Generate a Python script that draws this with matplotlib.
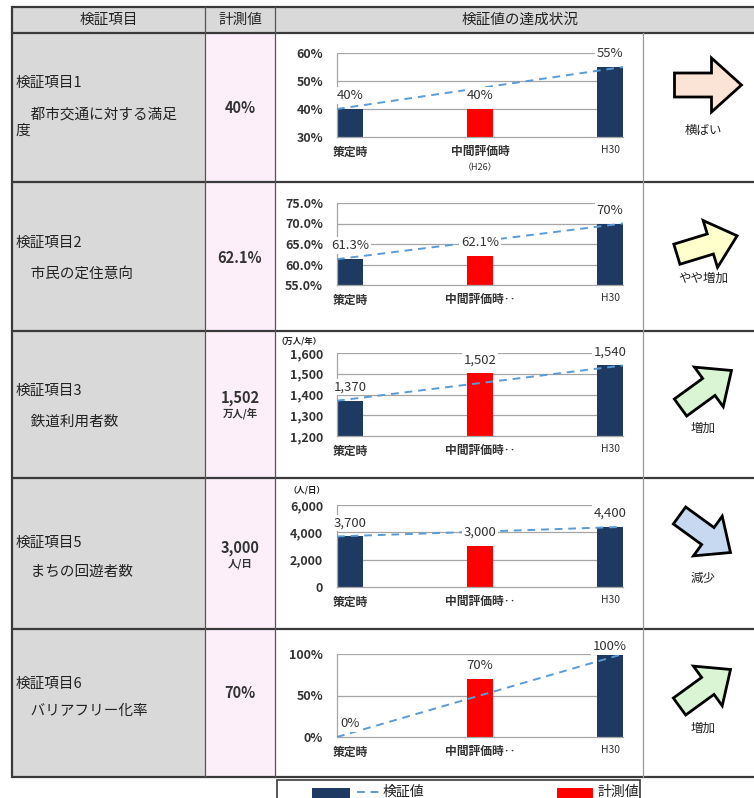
import math
import matplotlib
matplotlib.use("Agg")
import matplotlib.pyplot as plt
from matplotlib.patches import Rectangle, FancyArrow
from matplotlib.lines import Line2D

plt.rcParams['font.family'] = ['Noto Sans CJK JP', 'DejaVu Sans']

# ---------------- data ----------------
header_labels = ["検証項目", "計測値", "検証値の達成状況"]
categories = ["策定時", "中間評価時‥", "H30"]
first_subcategory = "（H26）"

item_titles = ["検証項目1", "検証項目2", "検証項目3", "検証項目5", "検証項目6"]
item_names = ["都市交通に対する満足度", "市民の定住意向", "鉄道利用者数",
              "まちの回遊者数", "バリアフリー化率"]
measured_units = ["", "", "万人/年", "人/日", ""]
axis_units = ["", "", "（万人/年）", "（人/日）", ""]

baseline_vals = [40, 61.3, 1370, 3700, 0]
measured_vals = [40, 62.1, 1502, 3000, 70]
target_vals = [55, 70, 1540, 4400, 100]

y_min = [30, 55, 1200, 0, 0]
y_max = [60, 75, 1600, 6000, 100]
y_step = [10, 5, 100, 2000, 50]
tick_fmt = ["{:.0f}%", "{:.1f}%", "{:,.0f}", "{:,.0f}", "{:.0f}%"]
value_fmt = ["{:.0f}%", "{:g}%", "{:,.0f}", "{:,.0f}", "{:.0f}%"]

trend_labels = ["横ばい", "やや増加", "増加", "減少", "増加"]
legend_labels = ["検証値", "計測値"]

# ---------------- styling / layout ----------------
W, H = 754, 798
NAVY = "#1F3A62"
RED = "#FF0000"
LINE_BLUE = "#5B9BD5"
GRID = "#A6A6A6"
TXT = "#222222"
GRAY_FILL = "#D9D9D9"
PINK_FILL = "#FCEFFA"

X_LEFT, X_C1, X_C2, X_C3, X_RIGHT = 12, 205, 275, 643, 770
Y_TOP, Y_HEAD = 7, 33
ROW_EDGES = [33, 182, 331, 478, 629, 777]
PLOT_BOUNDS = [(53, 137), (203, 285), (353, 436), (505, 587), (654, 737)]
PLOT_X = (337, 623)
TITLE_Y = [83, 243, 391, 543, 684]
NAME_DY = [32, 31, 31, 29, 27]
VALUE_Y = [108, 258, 398, 548, 693]
UNIT_Y = [None, None, 413, 564, None]
ARROW_CENTER = [(708, 85), (707, 245), (706, 389), (705, 534), (705, 688)]
ARROW_ANGLE = [0, 17, 36, -36, 36]
ARROW_FILL = ["#FBE4D5", "#FFFFCC", "#D9F5D3", "#C6D9F0", "#D9F5D3"]
TREND_Y = [130, 278, 428, 578, 728]
AXIS_UNIT_POS = [None, None, (277, 341), (289, 490), None]

fig = plt.figure(figsize=(W / 100, H / 100), dpi=100)
bg = fig.add_axes([0, 0, 1, 1])
bg.set_xlim(0, W)
bg.set_ylim(H, 0)
bg.axis("off")

# ---------------- table frame ----------------
bg.add_patch(Rectangle((X_LEFT, Y_TOP), X_RIGHT - X_LEFT, Y_HEAD - Y_TOP,
                       fc=GRAY_FILL, ec="none"))
bg.add_patch(Rectangle((X_LEFT, Y_HEAD), X_C1 - X_LEFT, ROW_EDGES[-1] - Y_HEAD,
                       fc=GRAY_FILL, ec="none"))
bg.add_patch(Rectangle((X_C1, Y_HEAD), X_C2 - X_C1, ROW_EDGES[-1] - Y_HEAD,
                       fc=PINK_FILL, ec="none"))

for y in [Y_TOP] + ROW_EDGES:
    bg.plot([X_LEFT, X_RIGHT], [y, y], color="#3A3A3A", lw=1.6,
            solid_capstyle="butt")
bg.plot([X_LEFT, X_LEFT], [Y_TOP, ROW_EDGES[-1]], color="#3A3A3A", lw=1.6)
for x in (X_C1, X_C2):
    bg.plot([x, x], [Y_TOP, ROW_EDGES[-1]], color="#555555", lw=0.9)
bg.plot([X_C3, X_C3], [Y_HEAD, ROW_EDGES[-1]], color="#9A9A9A", lw=0.9)

# header texts
bg.text((X_LEFT + X_C1) / 2, 20, header_labels[0], ha="center", va="center",
        fontsize=10.5, color=TXT)
bg.text((X_C1 + X_C2) / 2, 20, header_labels[1], ha="center", va="center",
        fontsize=10.5, color=TXT)
bg.text(520, 20, header_labels[2], ha="center", va="center",
        fontsize=10.5, color=TXT)

# ---------------- item labels and measured values ----------------
for i in range(len(item_titles)):
    bg.text(16, TITLE_Y[i], item_titles[i], ha="left", va="center",
            fontsize=10.5, color=TXT)
    name = "\u3000" + item_names[i]
    lines = [name[k:k + 11] for k in range(0, len(name), 11)]
    for j, ln in enumerate(lines):
        bg.text(16, TITLE_Y[i] + NAME_DY[i] + 16 * j, ln, ha="left",
                va="center", fontsize=10.5, color=TXT)
    bg.text((X_C1 + X_C2) / 2, VALUE_Y[i], value_fmt[i].format(measured_vals[i]),
            ha="center", va="center", fontsize=10.5, fontweight="bold",
            color="#333333")
    if measured_units[i]:
        bg.text((X_C1 + X_C2) / 2, UNIT_Y[i], measured_units[i], ha="center",
                va="center", fontsize=7.5, fontweight="bold", color="#333333")

# ---------------- trend arrows ----------------
for i in range(len(trend_labels)):
    cx, cy = ARROW_CENTER[i]
    ang = math.radians(ARROW_ANGLE[i])
    L = 67 if ARROW_ANGLE[i] == 0 else 63
    ux, uy = math.cos(ang), -math.sin(ang)
    arr = FancyArrow(cx - ux * L / 2, cy - uy * L / 2, ux * L, uy * L,
                     width=24 if i == 0 else 21,
                     head_width=54 if i == 0 else 49,
                     head_length=30 if i == 0 else 28,
                     length_includes_head=True, fc=ARROW_FILL[i], ec="black",
                     lw=2.0, joinstyle="miter")
    bg.add_patch(arr)
    bg.text(703, TREND_Y[i], trend_labels[i], ha="center", va="center",
            fontsize=9, color=TXT)

# ---------------- charts ----------------
XLIM = (-0.1, 2.1)
BAR_W = 0.2
xs = [0, 1, 2]
for i in range(len(item_titles)):
    top, bottom = PLOT_BOUNDS[i]
    ax = fig.add_axes([PLOT_X[0] / W, 1 - bottom / H,
                       (PLOT_X[1] - PLOT_X[0]) / W, (bottom - top) / H])
    vals = [baseline_vals[i], measured_vals[i], target_vals[i]]
    lo, hi = y_min[i], y_max[i]
    ax.set_xlim(*XLIM)
    ax.set_ylim(lo, hi)
    ticks = [lo + k * y_step[i] for k in range(int(round((hi - lo) / y_step[i])) + 1)]
    ax.set_yticks(ticks)
    ax.set_yticklabels([tick_fmt[i].format(t) for t in ticks])
    ax.set_facecolor("none")
    for t in ticks[1:]:
        ax.axhline(t, color=GRID, lw=0.9, zorder=0)
    for s in ("top", "right"):
        ax.spines[s].set_visible(False)
    for s in ("left", "bottom"):
        ax.spines[s].set_color(GRID)
        ax.spines[s].set_linewidth(0.9)
    ax.tick_params(axis="both", length=0, colors="#333333")
    ax.tick_params(axis="y", pad=10, labelsize=9)
    ax.tick_params(axis="x", pad=6, labelsize=8.5)
    ax.set_xticks(xs)
    ax.set_xticklabels(categories if i > 0 else
                       [c.rstrip("‥") for c in categories])
    for k, lab in enumerate(ax.get_xticklabels()):
        lab.set_fontweight("bold")
        if k == 2:
            lab.set_fontsize(7.5)
            lab.set_fontweight("normal")
    for lab in ax.get_yticklabels():
        lab.set_fontweight("bold")

    ax.bar(xs, vals, width=BAR_W, color=[NAVY, RED, NAVY], zorder=2)
    ax.plot(XLIM, [baseline_vals[i], target_vals[i]], color=LINE_BLUE, lw=1.4,
            dashes=(4, 3), zorder=3)

    plot_h = bottom - top
    for x, v in zip(xs, vals):
        frac = (v - lo) / (hi - lo) + 13.5 / plot_h
        frac = min(frac, 1 + 7 / plot_h)
        ax.text(x, frac, value_fmt[i].format(v), transform=ax.get_xaxis_transform(),
                ha="center", va="center", fontsize=9.5, color="#333333",
                zorder=4, clip_on=False,
                bbox=dict(fc="white", ec="none", pad=1.2))

    if i == 0:
        ax.text(1, -0.36, first_subcategory, transform=ax.get_xaxis_transform(),
                ha="center", va="center", fontsize=6.5, color="#333333")
    if axis_units[i]:
        ux, uy = AXIS_UNIT_POS[i]
        bg.text(ux, uy, axis_units[i], ha="left", va="center", fontsize=6,
                fontweight="bold", color=TXT)

# ---------------- legend strip ----------------
bg.add_patch(Rectangle((277, 780), 363, 30, fc="white", ec="#3A3A3A", lw=1.2,
                       clip_on=False))
bg.add_patch(Rectangle((312, 788), 38, 14, fc=NAVY, ec="none"))
bg.add_line(Line2D([357, 381], [791.5, 791.5], color=LINE_BLUE, lw=1.4,
                   dashes=(4, 3)))
bg.text(383, 791.5, legend_labels[0], ha="left", va="center", fontsize=10,
        color=TXT)
bg.add_patch(Rectangle((557, 788), 36, 14, fc=RED, ec="none"))
bg.text(597, 791.5, legend_labels[1], ha="left", va="center", fontsize=10,
        color=TXT)

fig.savefig("out.png", dpi=100)
